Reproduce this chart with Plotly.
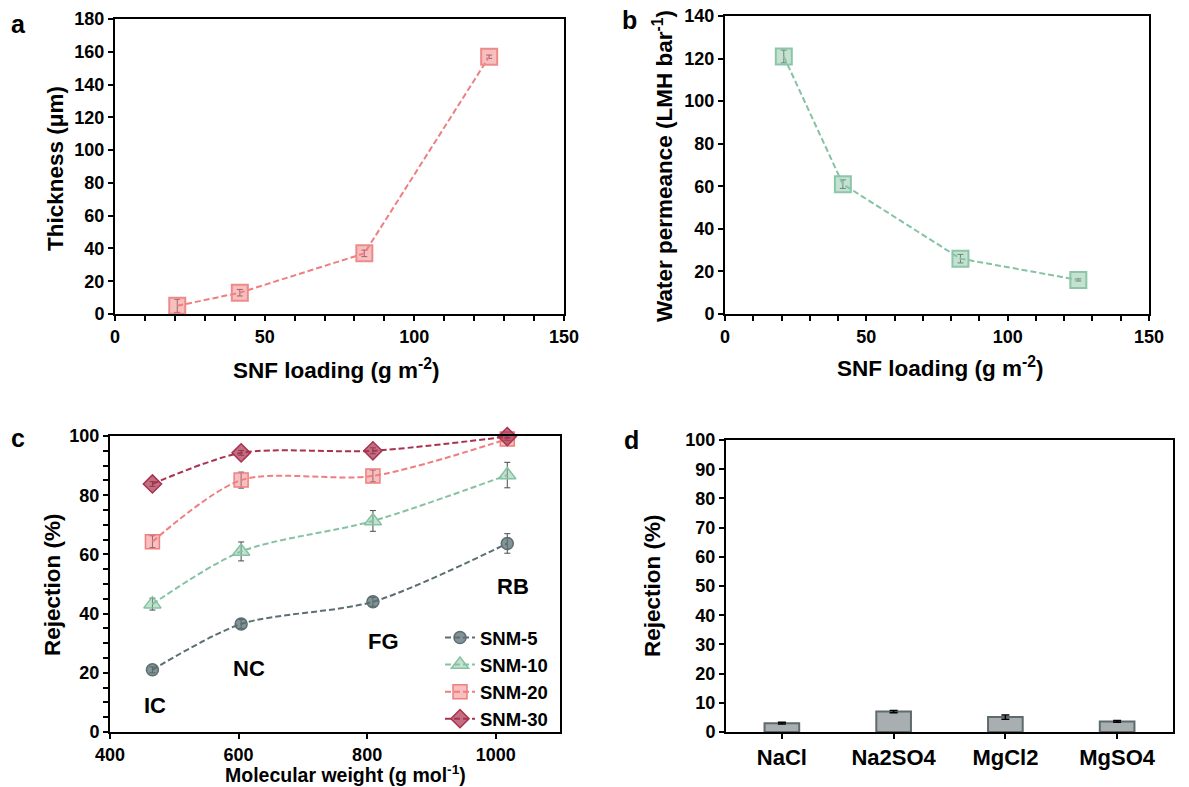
import plotly.graph_objects as go

W, H = 1189, 787

# ---------------- data ----------------
loading = [20.8, 41.7, 83.3, 125]
thickness = [5, 13, 37, 157]
thickness_err = [4, 2, 2, 1]
permeance = [121, 61, 26, 16]
permeance_err = [3, 2, 2, 0.5]

mw = [466, 604, 809, 1018]
dye_labels = ["IC", "NC", "FG", "RB"]
snm5 = [21, 36.5, 44, 63.7]
snm5_err = [1, 1.5, 1.5, 3.3]
snm10 = [43.2, 61, 71.3, 86.8]
snm10_err = [2, 3.2, 3.5, 4.3]
snm20 = [64.3, 85.1, 86.5, 99]
snm20_err = [2, 2.7, 2, 0.5]
snm30 = [83.8, 94.3, 95, 99.8]
snm30_err = [0.8, 0.8, 1, 0.5]

salts = ["NaCl", "Na2SO4", "MgCl2", "MgSO4"]
salt_rej = [3.0, 7.0, 5.1, 3.6]
salt_err = [0.3, 0.4, 0.7, 0.3]

FONT = "Liberation Sans, Arial, sans-serif"

def px_x(p):
    return p / W

def px_y(p):
    return 1 - p / H

fig = go.Figure()

DASH = "6px,3px"
ERR = dict(type="data", color="#4a4a4a", thickness=1, width=3)

# ---- panel a ----
fig.add_trace(go.Scatter(
    x=loading, y=thickness, mode="lines+markers",
    line=dict(color="#ef7f7f", width=2, dash=DASH),
    marker=dict(symbol="square", size=16, color="rgba(239,128,128,0.5)",
                line=dict(color="#ef8a8a", width=2)),
    error_y=dict(array=thickness_err, **ERR),
    xaxis="x", yaxis="y", showlegend=False, cliponaxis=False))

# ---- panel b ----
fig.add_trace(go.Scatter(
    x=loading, y=permeance, mode="lines+markers",
    line=dict(color="#86c2a3", width=2, dash=DASH),
    marker=dict(symbol="square", size=16, color="rgba(140,196,166,0.5)",
                line=dict(color="#8cc6a8", width=2)),
    error_y=dict(array=permeance_err, **ERR),
    xaxis="x2", yaxis="y2", showlegend=False, cliponaxis=False))

# ---- panel c ----
series = [
    ("SNM-5", snm5, snm5_err, "#5b6f73", "rgba(91,111,115,0.75)", "circle", 12),
    ("SNM-10", snm10, snm10_err, "#86c2a3", "rgba(135,195,164,0.5)", "triangle-up", 15),
    ("SNM-20", snm20, snm20_err, "#ef7f7f", "rgba(239,128,128,0.5)", "square", 14),
    ("SNM-30", snm30, snm30_err, "#a8324f", "rgba(168,50,79,0.7)", "diamond", 14),
]
for name, vals, errs, lc, fc, sym, sz in series:
    fig.add_trace(go.Scatter(
        x=mw, y=vals, mode="lines+markers", name=name,
        line=dict(color=lc, width=2, dash=DASH, shape="spline", smoothing=0.8),
        marker=dict(symbol=sym, size=sz, color=fc, line=dict(color=lc, width=1.5)),
        error_y=dict(array=errs, **ERR),
        xaxis="x3", yaxis="y3", cliponaxis=False))

# ---- panel d ----
fig.add_trace(go.Bar(
    x=salts, y=salt_rej, width=0.31,
    marker=dict(color="#a9aeb1", line=dict(color="#5d6b6e", width=2)),
    error_y=dict(type="data", array=salt_err, color="black", thickness=1.5, width=4),
    xaxis="x4", yaxis="y4", showlegend=False))

TICKFONT = dict(family=FONT, size=18, color="black", weight="bold")

def ax(domain, anchor, **kw):
    d = dict(domain=domain, anchor=anchor, showline=True, linecolor="black",
             linewidth=2, mirror=True, ticks="outside", ticklen=5, tickwidth=1.5,
             tickcolor="black", showgrid=False, zeroline=False, tickfont=TICKFONT,
             automargin=False)
    d.update(kw)
    return d

MINOR = dict(ticks="outside", ticklen=5, tickwidth=1.5, tickcolor="black", showgrid=False)

fig.update_layout(
    width=W, height=H, margin=dict(l=0, r=0, t=0, b=0, autoexpand=False),
    paper_bgcolor="white", plot_bgcolor="white",
    font=dict(family=FONT, color="black"),
    xaxis=ax([px_x(115), px_x(564)], "y", range=[0, 150], dtick=50,
             minor=dict(dtick=10, **MINOR)),
    yaxis=ax([px_y(314), px_y(19)], "x", range=[0, 180], dtick=20),
    xaxis2=ax([px_x(725), px_x(1149)], "y2", range=[0, 150], dtick=50,
              minor=dict(dtick=10, **MINOR)),
    yaxis2=ax([px_y(314), px_y(16)], "x2", range=[0, 140], dtick=20),
    xaxis3=ax([px_x(110), px_x(560)], "y3", range=[400, 1100],
              tickvals=[400, 600, 800, 1000]),
    yaxis3=ax([px_y(732), px_y(436)], "x3", range=[0, 100], dtick=20,
              minor=dict(dtick=5, **MINOR)),
    xaxis4=ax([px_x(726), px_x(1173)], "y4", range=[-0.5, 3.5],
              tickfont=dict(family=FONT, size=22, color="black", weight="bold")),
    yaxis4=ax([px_y(732), px_y(440)], "x4", range=[0, 100], dtick=10),
    legend=dict(x=px_x(440), y=px_y(619), xanchor="left", yanchor="top",
                bgcolor="rgba(0,0,0,0)", borderwidth=0, tracegroupgap=0,
                font=dict(family=FONT, size=18.5, color="black", weight="bold")),
)

TF = dict(family=FONT, size=22.5, color="black", weight="bold")
LF = dict(family=FONT, size=25, color="black", weight="bold")
annots = [
    # panel letters
    dict(text="a", x=px_x(18), y=px_y(24), font=LF),
    dict(text="b", x=px_x(629), y=px_y(20), font=LF),
    dict(text="c", x=px_x(18), y=px_y(438), font=LF),
    dict(text="d", x=px_x(631), y=px_y(440), font=LF),
    # axis titles
    dict(text="Thickness (μm)", x=px_x(55), y=px_y(168), textangle=-90, font=TF),
    dict(text="SNF loading (g m<sup>-2</sup>)", x=px_x(336), y=px_y(369), font=TF),
    dict(text="Water permeance (LMH bar<sup>-1</sup>)", x=px_x(663), y=px_y(166), textangle=-90, font=TF),
    dict(text="SNF loading (g m<sup>-2</sup>)", x=px_x(940), y=px_y(367), font=TF),
    dict(text="Rejection (%)", x=px_x(52), y=px_y(585), textangle=-90, font=TF),
    dict(text="Molecular weight (g mol<sup>-1</sup>)", x=px_x(345), y=px_y(774),
         font=dict(family=FONT, size=19.5, color="black", weight="bold")),
    dict(text="Rejection (%)", x=px_x(652), y=px_y(586), textangle=-90, font=TF),
]
for a in annots:
    a.update(xref="paper", yref="paper", showarrow=False, xanchor="center", yanchor="middle")
    fig.add_annotation(**a)

# dye labels in panel c (data coords)
dye_pos = [(470, 8.8), (616, 21.6), (825, 30.7), (1027, 49)]
for lab, (xx, yy) in zip(dye_labels, dye_pos):
    fig.add_annotation(text=lab, x=xx, y=yy, xref="x3", yref="y3", showarrow=False,
                       font=dict(family=FONT, size=22, color="black", weight="bold"))

fig.write_html("out.html", config={"displayModeBar": False},
               post_script="document.body.style.margin='0';document.body.style.padding='0';")
